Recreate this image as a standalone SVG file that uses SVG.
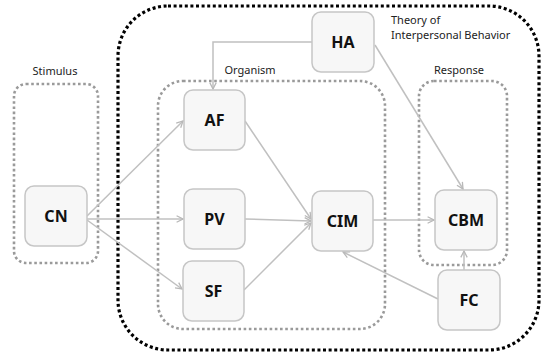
<svg xmlns="http://www.w3.org/2000/svg" width="543" height="353" viewBox="0 0 543 353">
<style>
.node rect{fill:#f7f7f7;stroke:#c6c6c6;stroke-width:1.5}
.node text{font-family:"Noto Sans","Liberation Sans",sans-serif;font-weight:bold;font-size:16px;fill:#111;text-anchor:middle;dominant-baseline:central}
.lbl{font-family:"Noto Sans","Liberation Sans",sans-serif;font-size:11px;fill:#222}
.outer{fill:none;stroke:#000;stroke-width:3.2;stroke-dasharray:3 2.6}
.grp{fill:none;stroke:#9a9a9a;stroke-width:2.6;stroke-dasharray:2.6 2.6}
#connectors path{fill:none;stroke:#c0c0c0;stroke-width:1.5;marker-end:url(#arr)}
</style>
<defs>
<marker id="arr" viewBox="0 0 10 10" refX="9" refY="5" markerWidth="8" markerHeight="8" markerUnits="userSpaceOnUse" orient="auto">
<path d="M1,1 L9,5 L1,9" fill="none" stroke="#b8b8b8" stroke-width="1.6"/>
</marker>
</defs>
<rect width="543" height="353" fill="#fff"/>
<g id="groups">
<rect class="outer" x="118" y="6" width="421" height="344" rx="50" ry="50"/>
<rect class="grp" x="14" y="84" width="84" height="179" rx="12" ry="12"/>
<rect class="grp" x="158" y="81" width="227" height="248" rx="25" ry="25"/>
<rect class="grp" x="419" y="81" width="88" height="184" rx="15" ry="15"/>
<text class="lbl" x="55" y="75" text-anchor="middle">Stimulus</text>
<text class="lbl" x="250" y="74" text-anchor="middle">Organism</text>
<text class="lbl" x="459" y="74" text-anchor="middle">Response</text>
<text class="lbl" x="391" y="24">Theory of</text>
<text class="lbl" x="391" y="39">Interpersonal Behavior</text>
</g>
<g id="connectors">
<path d="M312,42 H213 V89"/>
<path d="M375,45 L463,189"/>
<path d="M87,216 L183,121"/>
<path d="M87,219 L183,219"/>
<path d="M87,220 L182,289"/>
<path d="M245,121 L311,219"/>
<path d="M245,219 L311,221"/>
<path d="M244,290 L311,223"/>
<path d="M373,220 L434,220"/>
<path d="M464,270 L464,251"/>
<path d="M438,299 L343,252"/>
</g>
<g id="HA" class="node"><rect x="312" y="12" width="62" height="60" rx="9"/><text x="343" y="42">HA</text></g>
<g id="AF" class="node"><rect x="184" y="90" width="61" height="60" rx="9"/><text x="214.5" y="120">AF</text></g>
<g id="CN" class="node"><rect x="25" y="186" width="62" height="60" rx="9"/><text x="56" y="216">CN</text></g>
<g id="PV" class="node"><rect x="184" y="189" width="61" height="60" rx="9"/><text x="214.5" y="219">PV</text></g>
<g id="SF" class="node"><rect x="183" y="261" width="61" height="60" rx="9"/><text x="213.5" y="291">SF</text></g>
<g id="CIM" class="node"><rect x="312" y="191" width="61" height="60" rx="9"/><text x="342.5" y="221">CIM</text></g>
<g id="CBM" class="node"><rect x="435" y="190" width="62" height="60" rx="9"/><text x="466" y="220">CBM</text></g>
<g id="FC" class="node"><rect x="438" y="270" width="62" height="60" rx="9"/><text x="469" y="300">FC</text></g>
</svg>
